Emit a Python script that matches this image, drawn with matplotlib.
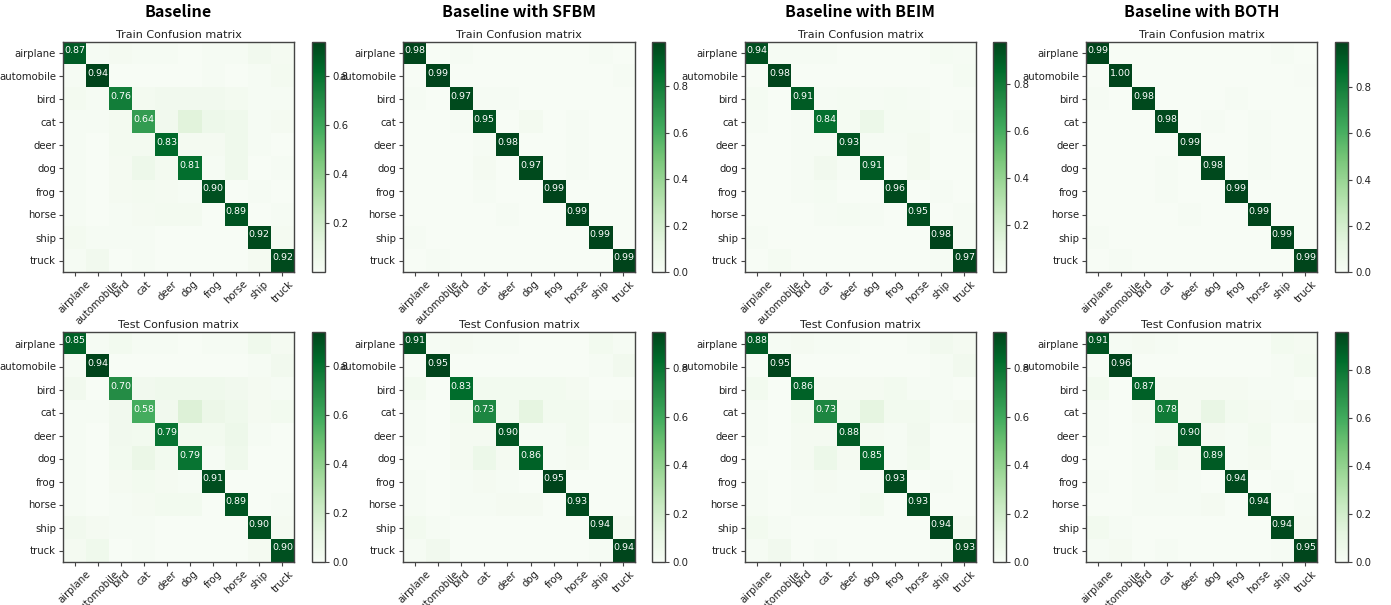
import numpy as np
import matplotlib
matplotlib.use("Agg")
import matplotlib.pyplot as plt

classes = ["airplane", "automobile", "bird", "cat", "deer",
           "dog", "frog", "horse", "ship", "truck"]
col_titles = ["Baseline", "Baseline with SFBM", "Baseline with BEIM", "Baseline with BOTH"]
row_titles = ["Train Confusion matrix", "Test Confusion matrix"]

# rows = true label, cols = predicted label (normalized)
base_train = [
    [0.87, 0.01, 0.02, 0.01, 0.01, 0.001, 0.01, 0.01, 0.04, 0.02],
    [0.01, 0.94, 0.001, 0.001, 0.001, 0.001, 0.01, 0.001, 0.01, 0.03],
    [0.03, 0.01, 0.76, 0.03, 0.04, 0.04, 0.04, 0.03, 0.01, 0.01],
    [0.01, 0.01, 0.03, 0.64, 0.04, 0.13, 0.06, 0.05, 0.01, 0.02],
    [0.01, 0.001, 0.03, 0.03, 0.83, 0.02, 0.02, 0.05, 0.01, 0.001],
    [0.01, 0.001, 0.02, 0.06, 0.03, 0.81, 0.01, 0.05, 0.001, 0.01],
    [0.01, 0.001, 0.02, 0.03, 0.02, 0.01, 0.90, 0.001, 0.01, 0.001],
    [0.01, 0.001, 0.01, 0.02, 0.03, 0.03, 0.001, 0.89, 0.001, 0.01],
    [0.03, 0.01, 0.01, 0.01, 0.001, 0.001, 0.001, 0.001, 0.92, 0.02],
    [0.01, 0.04, 0.001, 0.01, 0.001, 0.001, 0.001, 0.001, 0.02, 0.92],
]
sfbm_train = [
    [0.98, 0.00, 0.01, 0.00, 0.00, 0.00, 0.00, 0.00, 0.01, 0.00],
    [0.00, 0.99, 0.00, 0.00, 0.00, 0.00, 0.00, 0.00, 0.00, 0.01],
    [0.01, 0.00, 0.97, 0.01, 0.01, 0.00, 0.00, 0.00, 0.00, 0.00],
    [0.00, 0.00, 0.01, 0.95, 0.00, 0.03, 0.00, 0.01, 0.00, 0.00],
    [0.00, 0.00, 0.00, 0.01, 0.98, 0.00, 0.00, 0.01, 0.00, 0.00],
    [0.00, 0.00, 0.00, 0.02, 0.00, 0.97, 0.00, 0.01, 0.00, 0.00],
    [0.00, 0.00, 0.00, 0.01, 0.00, 0.00, 0.99, 0.00, 0.00, 0.00],
    [0.00, 0.00, 0.00, 0.00, 0.01, 0.00, 0.00, 0.99, 0.00, 0.00],
    [0.01, 0.00, 0.00, 0.00, 0.00, 0.00, 0.00, 0.00, 0.99, 0.00],
    [0.00, 0.01, 0.00, 0.00, 0.00, 0.00, 0.00, 0.00, 0.00, 0.99],
]
beim_train = [
    [0.94, 0.01, 0.01, 0.01, 0.001, 0.001, 0.001, 0.001, 0.02, 0.01],
    [0.001, 0.98, 0.001, 0.001, 0.001, 0.001, 0.001, 0.001, 0.001, 0.02],
    [0.02, 0.001, 0.91, 0.01, 0.02, 0.01, 0.02, 0.01, 0.001, 0.001],
    [0.01, 0.001, 0.01, 0.84, 0.02, 0.07, 0.02, 0.02, 0.001, 0.01],
    [0.001, 0.001, 0.01, 0.01, 0.93, 0.01, 0.01, 0.03, 0.001, 0.001],
    [0.001, 0.001, 0.01, 0.04, 0.01, 0.91, 0.001, 0.03, 0.001, 0.001],
    [0.001, 0.001, 0.01, 0.02, 0.001, 0.001, 0.96, 0.001, 0.01, 0.001],
    [0.001, 0.001, 0.001, 0.01, 0.02, 0.01, 0.001, 0.95, 0.001, 0.01],
    [0.01, 0.001, 0.001, 0.001, 0.001, 0.001, 0.001, 0.001, 0.98, 0.01],
    [0.001, 0.02, 0.001, 0.001, 0.001, 0.001, 0.001, 0.001, 0.01, 0.97],
]
both_train = [
    [0.99, 0.00, 0.00, 0.00, 0.00, 0.00, 0.00, 0.00, 0.01, 0.00],
    [0.00, 0.996, 0.00, 0.00, 0.00, 0.00, 0.00, 0.00, 0.00, 0.004],
    [0.01, 0.00, 0.98, 0.00, 0.00, 0.00, 0.01, 0.00, 0.00, 0.00],
    [0.00, 0.00, 0.00, 0.98, 0.00, 0.01, 0.00, 0.01, 0.00, 0.00],
    [0.00, 0.00, 0.00, 0.00, 0.99, 0.00, 0.00, 0.01, 0.00, 0.00],
    [0.00, 0.00, 0.00, 0.01, 0.00, 0.98, 0.00, 0.01, 0.00, 0.00],
    [0.00, 0.00, 0.00, 0.01, 0.00, 0.00, 0.99, 0.00, 0.00, 0.00],
    [0.00, 0.00, 0.00, 0.00, 0.01, 0.00, 0.00, 0.99, 0.00, 0.00],
    [0.01, 0.00, 0.00, 0.00, 0.00, 0.00, 0.00, 0.00, 0.99, 0.00],
    [0.00, 0.01, 0.00, 0.00, 0.00, 0.00, 0.00, 0.00, 0.00, 0.99],
]
base_test = [
    [0.85, 0.01, 0.03, 0.01, 0.01, 0.00, 0.01, 0.01, 0.05, 0.02],
    [0.01, 0.94, 0.00, 0.00, 0.00, 0.00, 0.00, 0.00, 0.01, 0.04],
    [0.04, 0.00, 0.70, 0.04, 0.05, 0.05, 0.05, 0.04, 0.02, 0.01],
    [0.01, 0.01, 0.04, 0.58, 0.04, 0.15, 0.07, 0.05, 0.02, 0.03],
    [0.01, 0.00, 0.04, 0.03, 0.79, 0.03, 0.03, 0.06, 0.01, 0.00],
    [0.01, 0.00, 0.03, 0.08, 0.03, 0.79, 0.01, 0.05, 0.00, 0.00],
    [0.01, 0.00, 0.02, 0.03, 0.02, 0.01, 0.91, 0.00, 0.00, 0.00],
    [0.01, 0.00, 0.01, 0.02, 0.03, 0.03, 0.00, 0.89, 0.00, 0.01],
    [0.04, 0.02, 0.01, 0.01, 0.00, 0.00, 0.00, 0.00, 0.90, 0.02],
    [0.02, 0.05, 0.00, 0.01, 0.00, 0.00, 0.00, 0.00, 0.02, 0.90],
]
sfbm_test = [
    [0.91, 0.01, 0.02, 0.01, 0.01, 0.00, 0.00, 0.00, 0.03, 0.01],
    [0.00, 0.95, 0.00, 0.00, 0.00, 0.00, 0.00, 0.00, 0.01, 0.04],
    [0.03, 0.00, 0.83, 0.03, 0.03, 0.03, 0.03, 0.02, 0.00, 0.00],
    [0.01, 0.00, 0.03, 0.73, 0.03, 0.11, 0.03, 0.03, 0.01, 0.02],
    [0.01, 0.00, 0.02, 0.02, 0.90, 0.01, 0.01, 0.03, 0.00, 0.00],
    [0.00, 0.00, 0.02, 0.07, 0.02, 0.86, 0.01, 0.02, 0.00, 0.00],
    [0.01, 0.00, 0.01, 0.02, 0.01, 0.00, 0.95, 0.00, 0.00, 0.00],
    [0.01, 0.00, 0.01, 0.01, 0.02, 0.02, 0.00, 0.93, 0.00, 0.00],
    [0.03, 0.01, 0.00, 0.00, 0.00, 0.00, 0.00, 0.00, 0.94, 0.02],
    [0.01, 0.04, 0.00, 0.00, 0.00, 0.00, 0.00, 0.00, 0.01, 0.94],
]
beim_test = [
    [0.88, 0.01, 0.02, 0.01, 0.01, 0.00, 0.00, 0.01, 0.04, 0.02],
    [0.00, 0.95, 0.00, 0.00, 0.00, 0.00, 0.00, 0.00, 0.01, 0.04],
    [0.03, 0.00, 0.86, 0.02, 0.02, 0.02, 0.03, 0.01, 0.01, 0.00],
    [0.01, 0.00, 0.03, 0.73, 0.03, 0.11, 0.03, 0.03, 0.01, 0.02],
    [0.01, 0.00, 0.02, 0.02, 0.88, 0.02, 0.01, 0.04, 0.00, 0.00],
    [0.00, 0.00, 0.02, 0.07, 0.02, 0.85, 0.01, 0.03, 0.00, 0.00],
    [0.01, 0.00, 0.01, 0.02, 0.01, 0.01, 0.93, 0.00, 0.01, 0.00],
    [0.01, 0.00, 0.01, 0.01, 0.01, 0.03, 0.00, 0.93, 0.00, 0.00],
    [0.03, 0.01, 0.00, 0.00, 0.00, 0.00, 0.00, 0.00, 0.94, 0.02],
    [0.01, 0.04, 0.00, 0.01, 0.00, 0.00, 0.00, 0.00, 0.01, 0.93],
]
both_test = [
    [0.91, 0.01, 0.02, 0.01, 0.00, 0.00, 0.00, 0.00, 0.03, 0.02],
    [0.00, 0.96, 0.00, 0.00, 0.00, 0.00, 0.00, 0.00, 0.01, 0.03],
    [0.03, 0.00, 0.87, 0.02, 0.02, 0.02, 0.02, 0.01, 0.01, 0.00],
    [0.01, 0.00, 0.02, 0.78, 0.02, 0.09, 0.03, 0.02, 0.01, 0.02],
    [0.01, 0.00, 0.01, 0.02, 0.90, 0.02, 0.01, 0.03, 0.00, 0.00],
    [0.00, 0.00, 0.01, 0.05, 0.02, 0.89, 0.01, 0.02, 0.00, 0.00],
    [0.01, 0.00, 0.01, 0.02, 0.01, 0.00, 0.94, 0.00, 0.01, 0.00],
    [0.00, 0.00, 0.01, 0.01, 0.01, 0.02, 0.00, 0.94, 0.00, 0.01],
    [0.03, 0.01, 0.00, 0.00, 0.00, 0.00, 0.00, 0.00, 0.94, 0.02],
    [0.01, 0.02, 0.00, 0.01, 0.00, 0.00, 0.00, 0.00, 0.01, 0.95],
]

matrices = [[base_train, sfbm_train, beim_train, both_train],
            [base_test, sfbm_test, beim_test, both_test]]

W, H = 1391, 605
fig = plt.figure(figsize=(W / 100, H / 100), dpi=100)

# pixel boxes (left, right) for heatmaps and colorbars, (top, bottom) per row
hm_x = [(63, 294), (403, 635), (745, 976), (1086, 1317)]
cb_x = [(312, 325), (652, 665), (993, 1006), (1335, 1348)]
row_y = [(42, 272), (332, 562)]
edge = "#444444"

def px_box(x0, x1, y0, y1):
	return [x0 / W, 1 - y1 / H, (x1 - x0) / W, (y1 - y0) / H]

for r in range(2):
	for c in range(4):
		cm = np.array(matrices[r][c])
		ax = fig.add_axes(px_box(*hm_x[c], *row_y[r]))
		im = ax.imshow(cm, interpolation="nearest", cmap="Greens",
		               vmin=cm.min(), vmax=cm.max(), aspect="auto")
		ax.set_title(row_titles[r], fontsize=8, pad=3, color="#222222")
		ticks = np.arange(len(classes))
		ax.set_xticks(ticks)
		ax.set_xticklabels(classes, rotation=45, fontsize=7.3, color="#222222")
		ax.set_yticks(ticks)
		ax.set_yticklabels(classes, fontsize=7.3, color="#222222")
		ax.tick_params(length=3, width=0.8, color=edge, pad=2)
		for s in ax.spines.values():
			s.set_color(edge)
			s.set_linewidth(1.0)
		thresh = cm.max() / 2.0
		for i in range(len(classes)):
			ax.text(i, i - 0.12, format(cm[i, i], ".2f"), ha="center", va="center",
			        fontsize=6.8, color="white" if cm[i, i] > thresh else "black")
		cax = fig.add_axes(px_box(*cb_x[c], *row_y[r]))
		cb = fig.colorbar(im, cax=cax)
		cb.outline.set_edgecolor(edge)
		cb.outline.set_linewidth(1.0)
		cb.ax.tick_params(labelsize=7.3, length=3, width=0.8, color=edge, pad=2,
		                  labelcolor="#222222")

for c in range(4):
	xc = (hm_x[c][0] + hm_x[c][1]) / 2 / W
	fig.text(xc, 1 - 12 / H, col_titles[c], ha="center", va="center",
	         fontsize=11.5, fontweight="bold",
	         family=["Noto Sans CJK SC", "DejaVu Sans"])

fig.savefig("out.png", dpi=100, facecolor="white")
